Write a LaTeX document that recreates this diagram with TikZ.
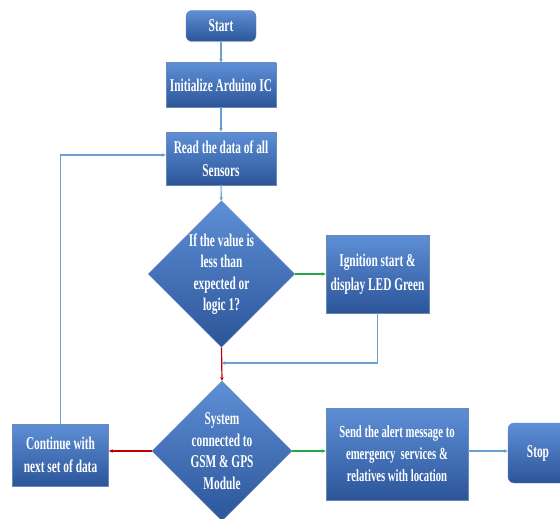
\documentclass[tikz,border=0pt]{standalone}
\usepackage{fontspec}
\setmainfont{Liberation Serif}[FakeStretch=0.63]
\usetikzlibrary{shapes.geometric,arrows.meta}
\definecolor{boxtop}{HTML}{5E8FD6}
\definecolor{boxbot}{HTML}{2C5599}
\definecolor{lineblue}{HTML}{6A9FCF}
\definecolor{linegreen}{HTML}{22A845}
\definecolor{linered}{HTML}{C00000}
\tikzset{
  x=1pt, y=-1pt,
  boxstyle/.style={rectangle, top color=boxtop, bottom color=boxbot, draw=boxbot!70, line width=0.4pt,
    text=white, font=\bfseries\fontsize{18}{23.5}\selectfont, align=center, inner sep=0pt},
  termstyle/.style={boxstyle, rounded corners=6pt},
  decstyle/.style={diamond, top color=boxtop, bottom color=boxbot, draw=boxbot!70, line width=0.4pt,
    text=white, font=\bfseries\fontsize{18}{21.5}\selectfont, align=center, inner sep=0pt},
  conn/.style={line width=1.2pt, -{Stealth[length=4pt,width=3.5pt]}},
  bluec/.style={conn, draw=lineblue},
  greenc/.style={conn, draw=linegreen},
  redc/.style={conn, draw=linered},
}
\begin{document}
\begin{tikzpicture}
\useasboundingbox (0,0) rectangle (560,519);
\node[termstyle, minimum width=70, minimum height=31] (start) at (221,26) {Start};
\node[boxstyle, minimum width=110, minimum height=44] (init) at (221,85) {Initialize Arduino IC};
\node[boxstyle, minimum width=110, minimum height=53] (read) at (221,158.5) {Read the data of all\\Sensors};
\node[decstyle, minimum width=141, minimum height=132] (dec1) at (221.5,274) {If the value is\\less than\\expected or\\logic 1?};
\node[boxstyle, minimum width=103, minimum height=78] (ign) at (377.5,274) {Ignition start \&\\display LED Green};
\node[decstyle, minimum width=140, minimum height=136] (dec2) at (222,451) {System\\connected to\\GSM \& GPS\\Module};
\node[boxstyle, minimum width=96, minimum height=62] (cont) at (60.5,455) {Continue with\\next set of data};
\node[boxstyle, minimum width=142, minimum height=92, font=\bfseries\fontsize{17}{22}\selectfont] (send) at (397,454) {Send the alert message to\\emergency\ \ services \&\\relatives with location};
\node[termstyle, minimum width=60, minimum height=60] (stop) at (538,453) {Stop};
\coordinate (merge) at (221.5,363);
\coordinate (loop) at (60.5,155);

\draw[bluec] (start) -- (init);
\draw[bluec] (init) -- (read);
\draw[bluec] (read) -- (dec1);
\draw[greenc] (dec1.east) -- (ign.west |- dec1.east);
\draw[redc] (dec1.south) -- (dec2.north);
\draw[bluec] (ign.south) |- (merge);
\draw[redc] (dec2.west) -- (cont.east |- dec2.west);
\draw[greenc] (dec2.east) -- (send.west |- dec2.east);
\draw[bluec] (send.east |- dec2.east) -- (stop.west |- dec2.east);
\draw[bluec] (cont.north) -- (loop) -- (read.west |- loop);
\end{tikzpicture}
\end{document}
